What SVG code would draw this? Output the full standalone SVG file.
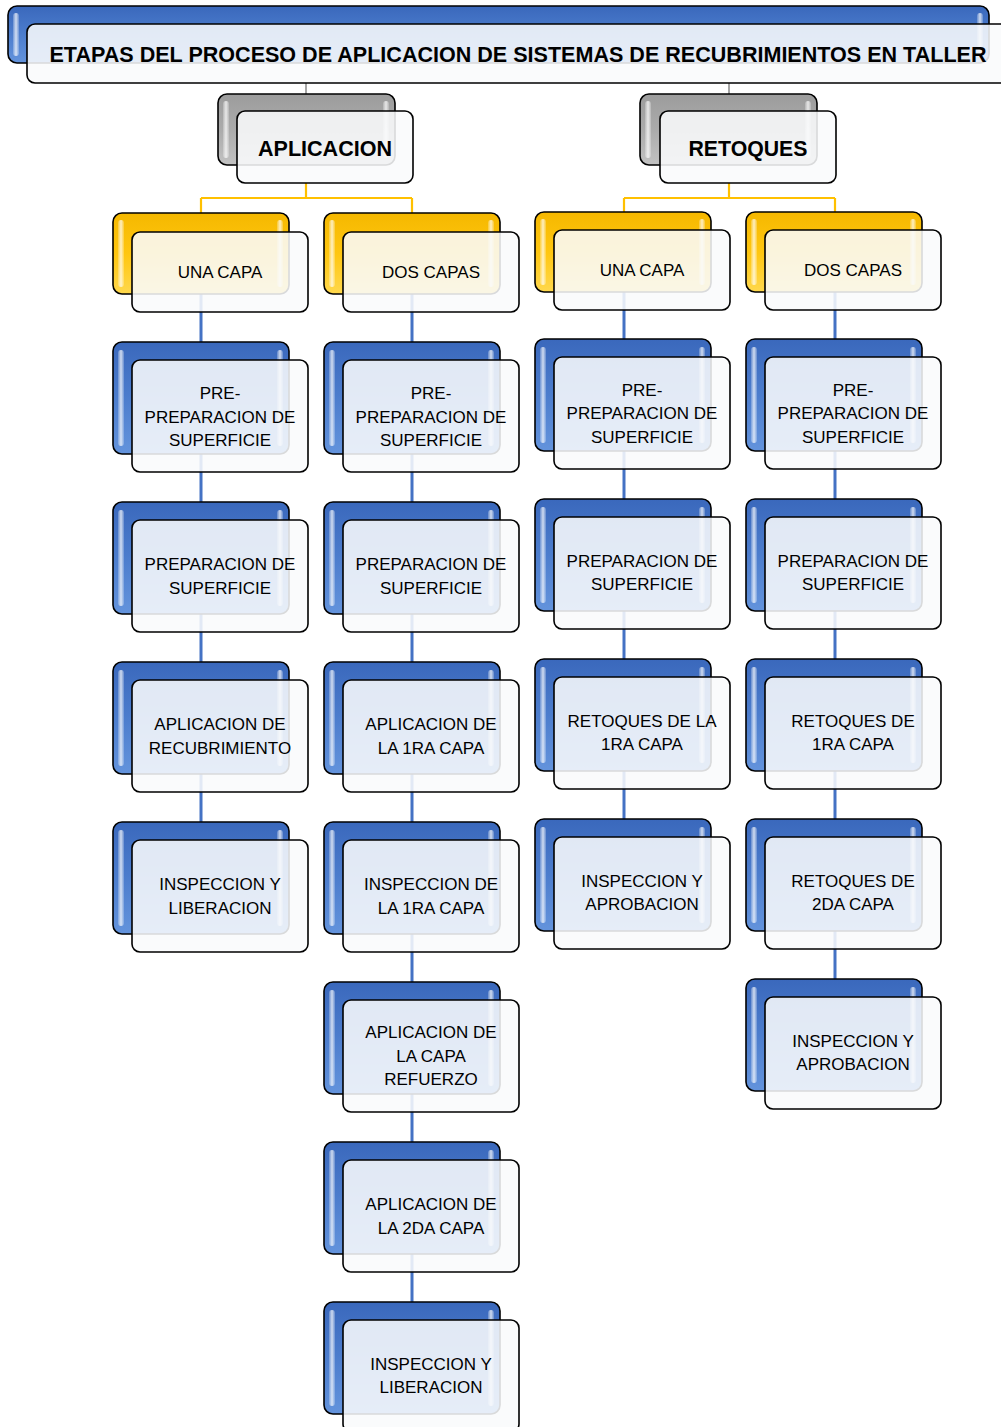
<svg xmlns="http://www.w3.org/2000/svg" width="1001" height="1427" viewBox="0 0 1001 1427">
<defs>
<linearGradient id="gBlue" x1="0" y1="0" x2="0" y2="1"><stop offset="0" stop-color="#3A68BC"/><stop offset="0.5" stop-color="#4C7DCD"/><stop offset="1" stop-color="#6393DC"/></linearGradient>
<linearGradient id="gYel" x1="0" y1="0" x2="0" y2="1"><stop offset="0" stop-color="#F5B800"/><stop offset="0.5" stop-color="#FFC60F"/><stop offset="1" stop-color="#FFD84D"/></linearGradient>
<linearGradient id="gGrey" x1="0" y1="0" x2="0" y2="1"><stop offset="0" stop-color="#9C9C9C"/><stop offset="0.5" stop-color="#ABABAB"/><stop offset="1" stop-color="#C2C2C2"/></linearGradient>
<linearGradient id="gHl" x1="0" y1="0" x2="1" y2="0"><stop offset="0" stop-color="#FFFFFF" stop-opacity="0.2"/><stop offset="0.5" stop-color="#FFFFFF" stop-opacity="0.75"/><stop offset="1" stop-color="#FFFFFF" stop-opacity="0.2"/></linearGradient>
</defs>
<style>
.bb{fill:url(#gBlue);stroke:#000;stroke-width:1.6}
.yb{fill:url(#gYel);stroke:#000;stroke-width:1.6}
.gb{fill:url(#gGrey);stroke:#000;stroke-width:1.6}
.hl{fill:url(#gHl)}
.fr{fill:#F9FAFC;fill-opacity:0.87;stroke:#000;stroke-width:1.6}
.t{font-family:"Liberation Sans",Arial,sans-serif;font-size:17px;fill:#000;text-anchor:middle}
.h{font-family:"Liberation Sans",Arial,sans-serif;font-size:22px;font-weight:bold;fill:#000;text-anchor:middle}
.cb{stroke:#4472C4;stroke-width:3;fill:none}
.cy{stroke:#FFC000;stroke-width:2.2;fill:none}
.cg{stroke:#A5A5A5;stroke-width:2;fill:none}
</style>

<g id="connectors">
<path class="cg" d="M306 83V94M729 83V94"/>
<path class="cy" d="M306 183V198M201 198H412M201 198V213M412 198V213"/>
<path class="cy" d="M729 183V198M624 198H835M624 198V212M835 198V212"/>
<path class="cb" d="M201 294V822"/>
<path class="cb" d="M412 294V1302"/>
<path class="cb" d="M624 292V819"/>
<path class="cb" d="M835 292V979"/>
</g>

<g id="title">
<rect class="bb" x="8" y="6" width="981" height="57" rx="9"/>
<rect class="hl" x="13" y="13" width="6" height="43" rx="3"/>
<rect class="hl" x="977" y="13" width="6" height="43" rx="3"/>
<rect class="fr" x="27" y="24" width="990" height="59" rx="8"/>
<text class="h" x="518" y="62" style="font-size:21.4px" textLength="937" lengthAdjust="spacingAndGlyphs">ETAPAS DEL PROCESO DE APLICACION DE SISTEMAS DE RECUBRIMIENTOS EN TALLER</text>
</g>

<g id="aplicacion">
<rect class="gb" x="218" y="94" width="177" height="71" rx="9"/>
<rect class="hl" x="223" y="101" width="6" height="57" rx="3"/>
<rect class="hl" x="383" y="101" width="6" height="57" rx="3"/>
<rect class="fr" x="237" y="111" width="176" height="72" rx="8"/>
<text class="h" x="325" y="156" textLength="134" lengthAdjust="spacingAndGlyphs">APLICACION</text>
</g>

<g id="retoques">
<rect class="gb" x="640" y="94" width="177" height="71" rx="9"/>
<rect class="hl" x="645" y="101" width="6" height="57" rx="3"/>
<rect class="hl" x="805" y="101" width="6" height="57" rx="3"/>
<rect class="fr" x="660" y="111" width="176" height="72" rx="8"/>
<text class="h" x="748" y="156" textLength="119" lengthAdjust="spacingAndGlyphs">RETOQUES</text>
</g>

<!-- Column 1 -->
<g id="c1-una-capa">
<rect class="yb" x="113" y="213" width="176" height="81" rx="9"/>
<rect class="hl" x="118" y="220" width="6" height="67" rx="3"/>
<rect class="hl" x="277" y="220" width="6" height="67" rx="3"/>
<rect class="fr" x="132" y="232" width="176" height="80" rx="8"/>
<text class="t" x="220" y="278">UNA CAPA</text>
</g>
<g id="c1-pre">
<rect class="bb" x="113" y="342" width="176" height="112" rx="9"/>
<rect class="hl" x="118" y="350" width="6" height="96" rx="3"/>
<rect class="hl" x="277" y="350" width="6" height="96" rx="3"/>
<rect class="fr" x="132" y="360" width="176" height="112" rx="8"/>
<text class="t" x="220" y="399">PRE-</text><text class="t" x="220" y="423">PREPARACION DE</text><text class="t" x="220" y="446">SUPERFICIE</text>
</g>
<g id="c1-prep">
<rect class="bb" x="113" y="502" width="176" height="112" rx="9"/>
<rect class="hl" x="118" y="510" width="6" height="96" rx="3"/>
<rect class="hl" x="277" y="510" width="6" height="96" rx="3"/>
<rect class="fr" x="132" y="520" width="176" height="112" rx="8"/>
<text class="t" x="220" y="570">PREPARACION DE</text><text class="t" x="220" y="594">SUPERFICIE</text>
</g>
<g id="c1-aplic">
<rect class="bb" x="113" y="662" width="176" height="112" rx="9"/>
<rect class="hl" x="118" y="670" width="6" height="96" rx="3"/>
<rect class="hl" x="277" y="670" width="6" height="96" rx="3"/>
<rect class="fr" x="132" y="680" width="176" height="112" rx="8"/>
<text class="t" x="220" y="730">APLICACION DE</text><text class="t" x="220" y="754">RECUBRIMIENTO</text>
</g>
<g id="c1-insp">
<rect class="bb" x="113" y="822" width="176" height="112" rx="9"/>
<rect class="hl" x="118" y="830" width="6" height="96" rx="3"/>
<rect class="hl" x="277" y="830" width="6" height="96" rx="3"/>
<rect class="fr" x="132" y="840" width="176" height="112" rx="8"/>
<text class="t" x="220" y="890">INSPECCION Y</text><text class="t" x="220" y="914">LIBERACION</text>
</g>

<!-- Column 2 -->
<g id="c2-dos-capas">
<rect class="yb" x="324" y="213" width="176" height="81" rx="9"/>
<rect class="hl" x="329" y="220" width="6" height="67" rx="3"/>
<rect class="hl" x="488" y="220" width="6" height="67" rx="3"/>
<rect class="fr" x="343" y="232" width="176" height="80" rx="8"/>
<text class="t" x="431" y="278">DOS CAPAS</text>
</g>
<g id="c2-pre">
<rect class="bb" x="324" y="342" width="176" height="112" rx="9"/>
<rect class="hl" x="329" y="350" width="6" height="96" rx="3"/>
<rect class="hl" x="488" y="350" width="6" height="96" rx="3"/>
<rect class="fr" x="343" y="360" width="176" height="112" rx="8"/>
<text class="t" x="431" y="399">PRE-</text><text class="t" x="431" y="423">PREPARACION DE</text><text class="t" x="431" y="446">SUPERFICIE</text>
</g>
<g id="c2-prep">
<rect class="bb" x="324" y="502" width="176" height="112" rx="9"/>
<rect class="hl" x="329" y="510" width="6" height="96" rx="3"/>
<rect class="hl" x="488" y="510" width="6" height="96" rx="3"/>
<rect class="fr" x="343" y="520" width="176" height="112" rx="8"/>
<text class="t" x="431" y="570">PREPARACION DE</text><text class="t" x="431" y="594">SUPERFICIE</text>
</g>
<g id="c2-aplic1">
<rect class="bb" x="324" y="662" width="176" height="112" rx="9"/>
<rect class="hl" x="329" y="670" width="6" height="96" rx="3"/>
<rect class="hl" x="488" y="670" width="6" height="96" rx="3"/>
<rect class="fr" x="343" y="680" width="176" height="112" rx="8"/>
<text class="t" x="431" y="730">APLICACION DE</text><text class="t" x="431" y="754">LA 1RA CAPA</text>
</g>
<g id="c2-insp1">
<rect class="bb" x="324" y="822" width="176" height="112" rx="9"/>
<rect class="hl" x="329" y="830" width="6" height="96" rx="3"/>
<rect class="hl" x="488" y="830" width="6" height="96" rx="3"/>
<rect class="fr" x="343" y="840" width="176" height="112" rx="8"/>
<text class="t" x="431" y="890">INSPECCION DE</text><text class="t" x="431" y="914">LA 1RA CAPA</text>
</g>
<g id="c2-refuerzo">
<rect class="bb" x="324" y="982" width="176" height="112" rx="9"/>
<rect class="hl" x="329" y="990" width="6" height="96" rx="3"/>
<rect class="hl" x="488" y="990" width="6" height="96" rx="3"/>
<rect class="fr" x="343" y="1000" width="176" height="112" rx="8"/>
<text class="t" x="431" y="1038">APLICACION DE</text><text class="t" x="431" y="1062">LA CAPA</text><text class="t" x="431" y="1085">REFUERZO</text>
</g>
<g id="c2-aplic2">
<rect class="bb" x="324" y="1142" width="176" height="112" rx="9"/>
<rect class="hl" x="329" y="1150" width="6" height="96" rx="3"/>
<rect class="hl" x="488" y="1150" width="6" height="96" rx="3"/>
<rect class="fr" x="343" y="1160" width="176" height="112" rx="8"/>
<text class="t" x="431" y="1210">APLICACION DE</text><text class="t" x="431" y="1234">LA 2DA CAPA</text>
</g>
<g id="c2-insp2">
<rect class="bb" x="324" y="1302" width="176" height="112" rx="9"/>
<rect class="hl" x="329" y="1310" width="6" height="96" rx="3"/>
<rect class="hl" x="488" y="1310" width="6" height="96" rx="3"/>
<rect class="fr" x="343" y="1320" width="176" height="112" rx="8"/>
<text class="t" x="431" y="1370">INSPECCION Y</text><text class="t" x="431" y="1393">LIBERACION</text>
</g>

<!-- Column 3 -->
<g id="c3-una-capa">
<rect class="yb" x="535" y="212" width="176" height="80" rx="9"/>
<rect class="hl" x="540" y="219" width="6" height="66" rx="3"/>
<rect class="hl" x="699" y="219" width="6" height="66" rx="3"/>
<rect class="fr" x="554" y="230" width="176" height="80" rx="8"/>
<text class="t" x="642" y="276">UNA CAPA</text>
</g>
<g id="c3-pre">
<rect class="bb" x="535" y="339" width="176" height="112" rx="9"/>
<rect class="hl" x="540" y="347" width="6" height="96" rx="3"/>
<rect class="hl" x="699" y="347" width="6" height="96" rx="3"/>
<rect class="fr" x="554" y="357" width="176" height="112" rx="8"/>
<text class="t" x="642" y="396">PRE-</text><text class="t" x="642" y="419">PREPARACION DE</text><text class="t" x="642" y="443">SUPERFICIE</text>
</g>
<g id="c3-prep">
<rect class="bb" x="535" y="499" width="176" height="112" rx="9"/>
<rect class="hl" x="540" y="507" width="6" height="96" rx="3"/>
<rect class="hl" x="699" y="507" width="6" height="96" rx="3"/>
<rect class="fr" x="554" y="517" width="176" height="112" rx="8"/>
<text class="t" x="642" y="567">PREPARACION DE</text><text class="t" x="642" y="590">SUPERFICIE</text>
</g>
<g id="c3-ret1">
<rect class="bb" x="535" y="659" width="176" height="112" rx="9"/>
<rect class="hl" x="540" y="667" width="6" height="96" rx="3"/>
<rect class="hl" x="699" y="667" width="6" height="96" rx="3"/>
<rect class="fr" x="554" y="677" width="176" height="112" rx="8"/>
<text class="t" x="642" y="727">RETOQUES DE LA</text><text class="t" x="642" y="750">1RA CAPA</text>
</g>
<g id="c3-insp">
<rect class="bb" x="535" y="819" width="176" height="112" rx="9"/>
<rect class="hl" x="540" y="827" width="6" height="96" rx="3"/>
<rect class="hl" x="699" y="827" width="6" height="96" rx="3"/>
<rect class="fr" x="554" y="837" width="176" height="112" rx="8"/>
<text class="t" x="642" y="887">INSPECCION Y</text><text class="t" x="642" y="910">APROBACION</text>
</g>

<!-- Column 4 -->
<g id="c4-dos-capas">
<rect class="yb" x="746" y="212" width="176" height="80" rx="9"/>
<rect class="hl" x="751" y="219" width="6" height="66" rx="3"/>
<rect class="hl" x="910" y="219" width="6" height="66" rx="3"/>
<rect class="fr" x="765" y="230" width="176" height="80" rx="8"/>
<text class="t" x="853" y="276">DOS CAPAS</text>
</g>
<g id="c4-pre">
<rect class="bb" x="746" y="339" width="176" height="112" rx="9"/>
<rect class="hl" x="751" y="347" width="6" height="96" rx="3"/>
<rect class="hl" x="910" y="347" width="6" height="96" rx="3"/>
<rect class="fr" x="765" y="357" width="176" height="112" rx="8"/>
<text class="t" x="853" y="396">PRE-</text><text class="t" x="853" y="419">PREPARACION DE</text><text class="t" x="853" y="443">SUPERFICIE</text>
</g>
<g id="c4-prep">
<rect class="bb" x="746" y="499" width="176" height="112" rx="9"/>
<rect class="hl" x="751" y="507" width="6" height="96" rx="3"/>
<rect class="hl" x="910" y="507" width="6" height="96" rx="3"/>
<rect class="fr" x="765" y="517" width="176" height="112" rx="8"/>
<text class="t" x="853" y="567">PREPARACION DE</text><text class="t" x="853" y="590">SUPERFICIE</text>
</g>
<g id="c4-ret1">
<rect class="bb" x="746" y="659" width="176" height="112" rx="9"/>
<rect class="hl" x="751" y="667" width="6" height="96" rx="3"/>
<rect class="hl" x="910" y="667" width="6" height="96" rx="3"/>
<rect class="fr" x="765" y="677" width="176" height="112" rx="8"/>
<text class="t" x="853" y="727">RETOQUES DE</text><text class="t" x="853" y="750">1RA CAPA</text>
</g>
<g id="c4-ret2">
<rect class="bb" x="746" y="819" width="176" height="112" rx="9"/>
<rect class="hl" x="751" y="827" width="6" height="96" rx="3"/>
<rect class="hl" x="910" y="827" width="6" height="96" rx="3"/>
<rect class="fr" x="765" y="837" width="176" height="112" rx="8"/>
<text class="t" x="853" y="887">RETOQUES DE</text><text class="t" x="853" y="910">2DA CAPA</text>
</g>
<g id="c4-insp">
<rect class="bb" x="746" y="979" width="176" height="112" rx="9"/>
<rect class="hl" x="751" y="987" width="6" height="96" rx="3"/>
<rect class="hl" x="910" y="987" width="6" height="96" rx="3"/>
<rect class="fr" x="765" y="997" width="176" height="112" rx="8"/>
<text class="t" x="853" y="1047">INSPECCION Y</text><text class="t" x="853" y="1070">APROBACION</text>
</g>
</svg>
